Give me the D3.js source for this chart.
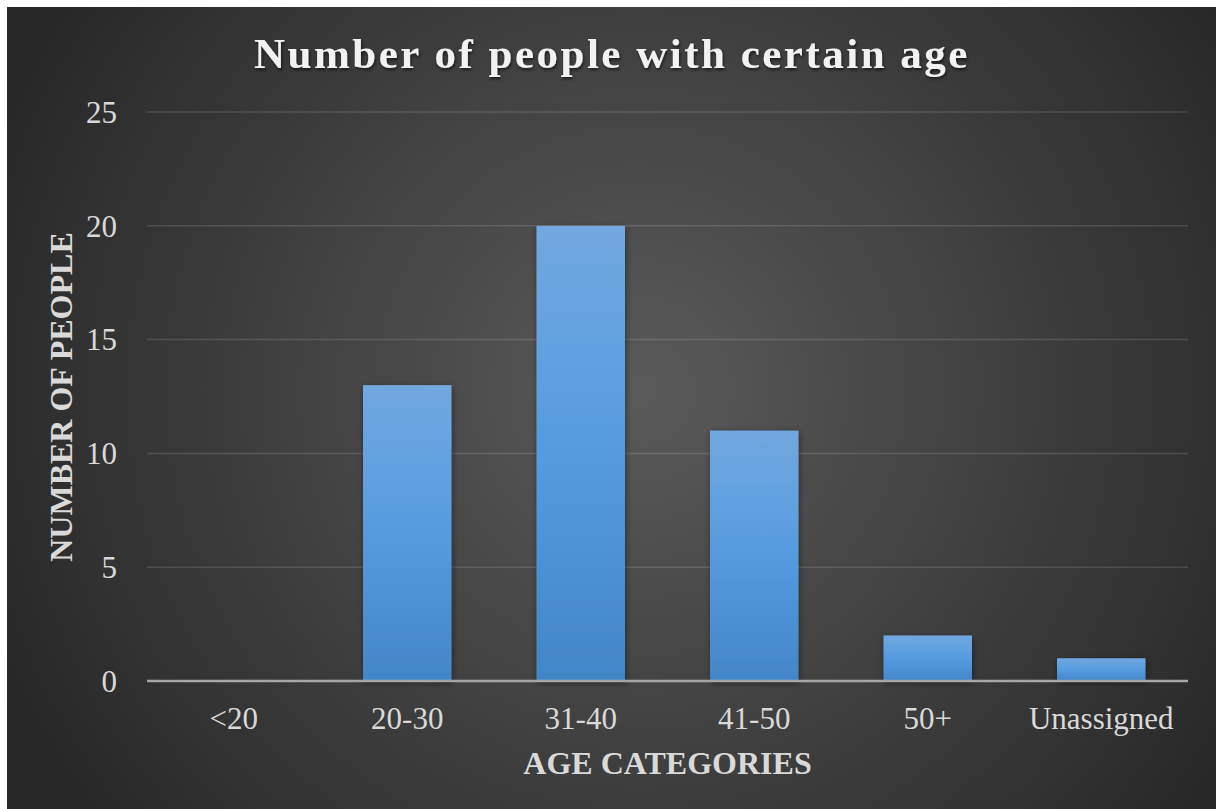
<!DOCTYPE html>
<html>
<head>
<meta charset="utf-8">
<script src="https://cdn.jsdelivr.net/npm/d3@7"></script>
<style>
  html, body { margin: 0; padding: 0; background: #fff; }
  svg { display: block; }
  text { font-family: "Liberation Serif", "Times New Roman", serif; }
</style>
</head>
<body>
<div id="chart"></div>
<script>
// chart data
const categories = ["<20", "20-30", "31-40", "41-50", "50+", "Unassigned"];
const counts = [0, 13, 20, 11, 2, 1];
const yTicks = [0, 5, 10, 15, 20, 25];

const width = 1216, height = 809;
const margin = { top: 112, right: 28, bottom: 128, left: 147 }; // plot area

const svg = d3.select("#chart").append("svg")
    .attr("width", width)
    .attr("height", height);

const defs = svg.append("defs");

// background radial gradient
const bg = defs.append("radialGradient")
    .attr("id", "bg")
    .attr("gradientUnits", "userSpaceOnUse")
    .attr("cx", 640).attr("cy", 390).attr("r", 720);
bg.append("stop").attr("offset", "0%").attr("stop-color", "#5a5a5a");
bg.append("stop").attr("offset", "100%").attr("stop-color", "#262626");

// bar gradient
const barGrad = defs.append("linearGradient")
    .attr("id", "barGrad")
    .attr("x1", 0).attr("y1", 0).attr("x2", 0).attr("y2", 1);
barGrad.append("stop").attr("offset", "0%").attr("stop-color", "#71a8df");
barGrad.append("stop").attr("offset", "50%").attr("stop-color", "#559be0");
barGrad.append("stop").attr("offset", "100%").attr("stop-color", "#4286c8");

// drop shadows
const shadow = defs.append("filter").attr("id", "shadow")
    .attr("x", "-20%").attr("y", "-20%").attr("width", "140%").attr("height", "140%");
shadow.append("feDropShadow")
    .attr("dx", 1).attr("dy", 2).attr("stdDeviation", 3)
    .attr("flood-color", "#000").attr("flood-opacity", 0.45);

const textShadow = defs.append("filter").attr("id", "textShadow")
    .attr("x", "-10%").attr("y", "-30%").attr("width", "120%").attr("height", "160%");
textShadow.append("feDropShadow")
    .attr("dx", 1).attr("dy", 2).attr("stdDeviation", 1.5)
    .attr("flood-color", "#000").attr("flood-opacity", 0.6);

// white page border then dark background
svg.append("rect")
    .attr("x", 7).attr("y", 7)
    .attr("width", width - 7).attr("height", height - 7)
    .attr("fill", "url(#bg)");

const plotW = width - margin.left - margin.right;
const plotH = height - margin.top - margin.bottom;

const x = d3.scaleBand()
    .domain(categories)
    .range([margin.left, margin.left + plotW])
    .paddingInner(0.49)
    .paddingOuter(0.245);

const y = d3.scaleLinear()
    .domain([0, 25])
    .range([margin.top + plotH, margin.top]);

// gridlines
svg.append("g")
    .selectAll("line")
    .data(yTicks.filter(d => d > 0))
    .join("line")
    .attr("x1", margin.left)
    .attr("x2", margin.left + plotW)
    .attr("y1", d => y(d))
    .attr("y2", d => y(d))
    .attr("stroke", "#ffffff")
    .attr("stroke-opacity", 0.13)
    .attr("stroke-width", 1.5);

// y tick labels
svg.append("g")
    .selectAll("text")
    .data(yTicks)
    .join("text")
    .attr("x", 117)
    .attr("y", d => y(d))
    .attr("dy", "0.35em")
    .attr("text-anchor", "end")
    .attr("fill", "#d9d9d9")
    .style("font-size", "31px")
    .text(d => d);

// bars
svg.append("g")
    .selectAll("rect")
    .data(counts.map((v, i) => ({ cat: categories[i], v: v })).filter(d => d.v > 0))
    .join("rect")
    .attr("x", d => x(d.cat))
    .attr("y", d => y(d.v))
    .attr("width", x.bandwidth())
    .attr("height", d => y(0) - y(d.v))
    .attr("fill", "url(#barGrad)")
    .attr("filter", "url(#shadow)");

// x axis line
svg.append("line")
    .attr("x1", margin.left)
    .attr("x2", margin.left + plotW)
    .attr("y1", y(0))
    .attr("y2", y(0))
    .attr("stroke", "#a6a6a6")
    .attr("stroke-width", 2.5);

// x tick labels
svg.append("g")
    .selectAll("text")
    .data(categories)
    .join("text")
    .attr("x", d => x(d) + x.bandwidth() / 2)
    .attr("y", 729)
    .attr("text-anchor", "middle")
    .attr("fill", "#d9d9d9")
    .style("font-size", "31px")
    .text(d => d);

// axis titles
svg.append("text")
    .attr("x", margin.left + plotW / 2)
    .attr("y", 774)
    .attr("text-anchor", "middle")
    .attr("fill", "#d9d9d9")
    .style("font-size", "32px")
    .style("font-weight", "bold")
    .text("AGE CATEGORIES");

svg.append("text")
    .attr("transform", `translate(72, ${y(12.5) + 0.5}) rotate(-90)`)
    .attr("text-anchor", "middle")
    .attr("fill", "#d9d9d9")
    .style("font-size", "32px")
    .style("font-weight", "bold")
    .text("NUMBER OF PEOPLE");

// chart title
svg.append("text")
    .attr("x", 612)
    .attr("y", 68)
    .attr("text-anchor", "middle")
    .attr("fill", "#f2f2f2")
    .attr("filter", "url(#textShadow)")
    .style("font-size", "43px")
    .style("font-weight", "bold")
    .style("letter-spacing", "2.5px")
    .text("Number of people with certain age");
</script>
</body>
</html>
